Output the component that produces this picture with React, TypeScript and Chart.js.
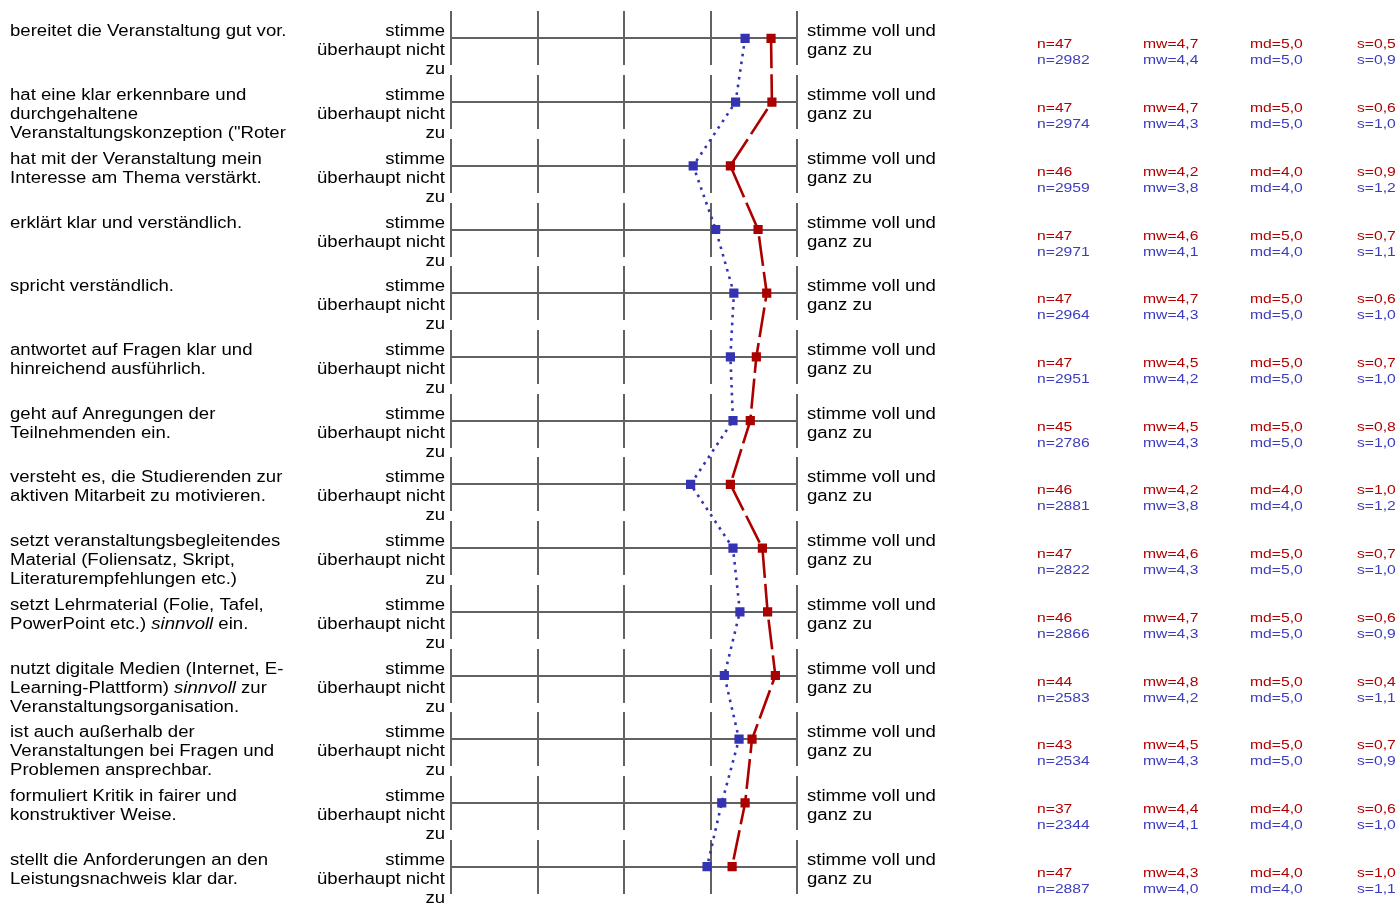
import React, { useEffect, useRef } from 'react';
import { Chart, registerables } from 'chart.js';

Chart.register(...registerables);

// ---------- data ----------
const questions: string[] = [
  'bereitet die Veranstaltung gut vor.',
  'hat eine klar erkennbare und\ndurchgehaltene\nVeranstaltungskonzeption ("Roter',
  'hat mit der Veranstaltung mein\nInteresse am Thema verstärkt.',
  'erklärt klar und verständlich.',
  'spricht verständlich.',
  'antwortet auf Fragen klar und\nhinreichend ausführlich.',
  'geht auf Anregungen der\nTeilnehmenden ein.',
  'versteht es, die Studierenden zur\naktiven Mitarbeit zu motivieren.',
  'setzt veranstaltungsbegleitendes\nMaterial (Foliensatz, Skript,\nLiteraturempfehlungen etc.)',
  'setzt Lehrmaterial (Folie, Tafel,\nPowerPoint etc.) *sinnvoll* ein.',
  'nutzt digitale Medien (Internet, E-\nLearning-Plattform) *sinnvoll* zur\nVeranstaltungsorganisation.',
  'ist auch außerhalb der\nVeranstaltungen bei Fragen und\nProblemen ansprechbar.',
  'formuliert Kritik in fairer und\nkonstruktiver Weise.',
  'stellt die Anforderungen an den\nLeistungsnachweis klar dar.',
];

const leftPole: string[] = ['stimme', 'überhaupt nicht', 'zu'];
const rightPole: string[] = ['stimme voll und', 'ganz zu'];
const scalePoints: number[] = [1, 2, 3, 4, 5];

// plotted means (course = red, comparison = blue)
const meanCourse: number[] = [4.70, 4.71, 4.23, 4.55, 4.65, 4.53, 4.46, 4.23, 4.60, 4.66, 4.75, 4.48, 4.40, 4.25];
const meanCompare: number[] = [4.40, 4.29, 3.80, 4.06, 4.27, 4.23, 4.26, 3.77, 4.26, 4.34, 4.16, 4.33, 4.13, 3.96];

// printed statistics
const nCourse: number[] = [47, 47, 46, 47, 47, 47, 45, 46, 47, 46, 44, 43, 37, 47];
const mwCourse: number[] = [4.7, 4.7, 4.2, 4.6, 4.7, 4.5, 4.5, 4.2, 4.6, 4.7, 4.8, 4.5, 4.4, 4.3];
const mdCourse: number[] = [5, 5, 4, 5, 5, 5, 5, 4, 5, 5, 5, 5, 4, 4];
const sCourse: number[] = [0.5, 0.6, 0.9, 0.7, 0.6, 0.7, 0.8, 1.0, 0.7, 0.6, 0.4, 0.7, 0.6, 1.0];

const nCompare: number[] = [2982, 2974, 2959, 2971, 2964, 2951, 2786, 2881, 2822, 2866, 2583, 2534, 2344, 2887];
const mwCompare: number[] = [4.4, 4.3, 3.8, 4.1, 4.3, 4.2, 4.3, 3.8, 4.3, 4.3, 4.2, 4.3, 4.1, 4.0];
const mdCompare: number[] = [5, 5, 4, 4, 5, 5, 5, 4, 5, 5, 5, 5, 4, 4];
const sCompare: number[] = [0.9, 1.0, 1.2, 1.1, 1.0, 1.0, 1.0, 1.2, 1.0, 0.9, 1.1, 0.9, 1.0, 1.1];

// ---------- styles ----------
const RED = '#aa0000';
const BLUE = '#3333b4';
const RED_TEXT = '#b00000';
const BLUE_TEXT = '#3c3cbe';
const GRID = '#626262';
const FONT_FAMILY = '"Liberation Sans", Arial, Helvetica, sans-serif';

const fmt = (v: number) => v.toFixed(1).replace('.', ',');

type Seg = { text: string; italic: boolean };

function parseSegments(line: string): Seg[] {
  const parts = line.split('*');
  return parts
    .map((t, k) => ({ text: t, italic: k % 2 === 1 }))
    .filter((s) => s.text.length > 0);
}

function drawText(
  ctx: CanvasRenderingContext2D,
  line: string,
  x: number,
  y: number,
  align: 'left' | 'right',
  size: number,
  sx: number,
  color: string
) {
  const segs = parseSegments(line);
  ctx.save();
  ctx.translate(x, y);
  ctx.scale(sx, 1);
  ctx.fillStyle = color;
  ctx.textBaseline = 'alphabetic';
  ctx.textAlign = 'left';
  const widths = segs.map((s) => {
    ctx.font = `${s.italic ? 'italic ' : ''}${size}px ${FONT_FAMILY}`;
    return ctx.measureText(s.text).width;
  });
  const total = widths.reduce((a, b) => a + b, 0);
  let cx = align === 'right' ? -total : 0;
  segs.forEach((s, k) => {
    ctx.font = `${s.italic ? 'italic ' : ''}${size}px ${FONT_FAMILY}`;
    ctx.fillText(s.text, cx, 0);
    cx += widths[k];
  });
  ctx.restore();
}

const overlayPlugin = {
  id: 'surveyOverlay',
  beforeDatasetsDraw(chart: any) {
    const { ctx } = chart;
    const x = chart.scales.x;
    const y = chart.scales.y;
    ctx.save();
    ctx.strokeStyle = GRID;
    ctx.lineWidth = 2;
    questions.forEach((_, i) => {
      const c = Math.round(y.getPixelForValue(i));
      ctx.beginPath();
      ctx.moveTo(x.getPixelForValue(scalePoints[0]), c);
      ctx.lineTo(x.getPixelForValue(scalePoints[scalePoints.length - 1]), c);
      scalePoints.forEach((v) => {
        const px = Math.round(x.getPixelForValue(v));
        ctx.moveTo(px, c - 27);
        ctx.lineTo(px, c + 27);
      });
      ctx.stroke();
    });
    ctx.restore();
  },
  afterDraw(chart: any) {
    const { ctx } = chart;
    const x = chart.scales.x;
    const y = chart.scales.y;
    const leftEdge = x.getPixelForValue(scalePoints[0]);
    const rightEdge = x.getPixelForValue(scalePoints[scalePoints.length - 1]);
    const labelSize = 16;
    const labelSx = 1.16;
    const statSize = 13.3;
    const statSx = 1.18;
    const lineH = 19;
    const statCols = [1037, 1143, 1250, 1357];

    questions.forEach((q, i) => {
      const c = Math.round(y.getPixelForValue(i));
      // question text
      q.split('\n').forEach((ln, k) => {
        drawText(ctx, ln, 10, c - 2 + k * lineH, 'left', labelSize, labelSx, '#000');
      });
      // left pole
      leftPole.forEach((ln, k) => {
        drawText(ctx, ln, leftEdge - 6, c - 2 + k * lineH, 'right', labelSize, labelSx, '#000');
      });
      // right pole
      rightPole.forEach((ln, k) => {
        drawText(ctx, ln, rightEdge + 10, c - 2 + k * lineH, 'left', labelSize, labelSx, '#000');
      });
      // statistics
      const top = [
        `n=${nCourse[i]}`,
        `mw=${fmt(mwCourse[i])}`,
        `md=${fmt(mdCourse[i])}`,
        `s=${fmt(sCourse[i])}`,
      ];
      const bottom = [
        `n=${nCompare[i]}`,
        `mw=${fmt(mwCompare[i])}`,
        `md=${fmt(mdCompare[i])}`,
        `s=${fmt(sCompare[i])}`,
      ];
      top.forEach((t, k) => drawText(ctx, t, statCols[k], c + 9.5, 'left', statSize, statSx, RED_TEXT));
      bottom.forEach((t, k) => drawText(ctx, t, statCols[k], c + 25.5, 'left', statSize, statSx, BLUE_TEXT));
    });
  },
};

export default function App() {
  const canvasRef = useRef<HTMLCanvasElement | null>(null);

  useEffect(() => {
    if (!canvasRef.current) return;
    const chart = new Chart(canvasRef.current, {
      type: 'scatter',
      data: {
        datasets: [
          {
            label: 'Veranstaltung',
            data: meanCourse.map((v, i) => ({ x: v, y: i })),
            showLine: true,
            borderColor: RED,
            backgroundColor: RED,
            borderWidth: 2.6,
            borderDash: [30, 6],
            pointStyle: 'rect',
            pointRadius: 6.5,
            pointBorderWidth: 0,
            pointBackgroundColor: RED,
            tension: 0,
          },
          {
            label: 'Vergleich',
            data: meanCompare.map((v, i) => ({ x: v, y: i })),
            showLine: true,
            borderColor: BLUE,
            backgroundColor: BLUE,
            borderWidth: 2.6,
            borderDash: [2.6, 5.2],
            pointStyle: 'rect',
            pointRadius: 6.5,
            pointBorderWidth: 0,
            pointBackgroundColor: BLUE,
            tension: 0,
          },
        ],
      } as any,
      options: {
        animation: false,
        responsive: false,
        events: [],
        layout: { padding: { left: 451, right: 602, top: 5, bottom: 4 } },
        scales: {
          x: { type: 'linear', min: 1, max: 5, display: false },
          y: { type: 'linear', min: -0.5, max: 13.5, reverse: true, display: false },
        },
        plugins: {
          legend: { display: false },
          tooltip: { enabled: false },
        },
      } as any,
      plugins: [overlayPlugin],
    });
    return () => chart.destroy();
  }, []);

  return (
    <div
      style={{
        position: 'fixed',
        left: 0,
        top: 0,
        width: 1399,
        height: 905,
        background: '#fff',
        overflow: 'hidden',
      }}
    >
      <canvas ref={canvasRef} width={1399} height={905} style={{ display: 'block' }} />
    </div>
  );
}
